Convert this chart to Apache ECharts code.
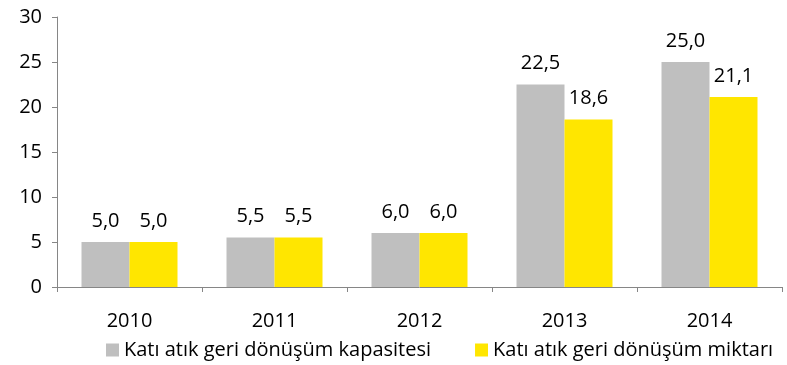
<!DOCTYPE html>
<html>
<head>
<meta charset="utf-8">
<script src="https://cdn.jsdelivr.net/npm/echarts@6/dist/echarts.min.js"></script>
<style>
html,body{margin:0;padding:0;background:#fff;}
#chart{width:787px;height:365px;}
</style>
</head>
<body>
<div id="chart"></div>
<script>
// Solid waste recycling: capacity vs amount, 2010-2014
const years = ['2010', '2011', '2012', '2013', '2014'];
const capacity = [5.0, 5.5, 6.0, 22.5, 25.0];
const amount = [5.0, 5.5, 6.0, 18.6, 21.1];
const seriesNames = ['Katı atık geri dönüşüm kapasitesi', 'Katı atık geri dönüşüm miktarı'];

const font = 'Open Sans, Noto Sans, sans-serif';
const fs = 20;
const fmt = p => p.value.toFixed(1).replace('.', ',');

const chart = echarts.init(document.getElementById('chart'));
chart.setOption({
  animation: false,
  textStyle: { fontFamily: font },
  grid: { left: 57, right: 5, top: 17, bottom: 78 },
  legend: {
    top: 335,
    left: 101,
    itemWidth: 13,
    itemHeight: 13,
    itemGap: 44,
    icon: 'rect',
    textStyle: { fontSize: fs, color: '#000', fontFamily: font },
    data: seriesNames
  },
  xAxis: {
    type: 'category',
    data: years,
    axisLine: { lineStyle: { color: '#868686', width: 1 } },
    axisTick: { show: true, alignWithLabel: false, length: 5, lineStyle: { color: '#868686' } },
    axisLabel: { fontSize: fs, color: '#000', margin: 24, fontFamily: font }
  },
  yAxis: {
    type: 'value',
    min: 0,
    max: 30,
    interval: 5,
    axisLine: { show: true, lineStyle: { color: '#868686', width: 1 } },
    axisTick: { show: true, length: 5, lineStyle: { color: '#868686' } },
    splitLine: { show: false },
    axisLabel: { fontSize: fs, color: '#000', margin: 15, fontFamily: font }
  },
  series: [
    {
      name: seriesNames[0],
      type: 'bar',
      data: capacity,
      barWidth: 48,
      barGap: '0%',
      itemStyle: { color: '#BFBFBF' },
      label: { show: true, position: 'top', distance: 11, fontSize: fs, color: '#000', formatter: fmt, fontFamily: font }
    },
    {
      name: seriesNames[1],
      type: 'bar',
      data: amount,
      barWidth: 48,
      barGap: '0%',
      itemStyle: { color: '#FFE600' },
      label: { show: true, position: 'top', distance: 11, fontSize: fs, color: '#000', formatter: fmt, fontFamily: font }
    }
  ]
});
</script>
</body>
</html>
